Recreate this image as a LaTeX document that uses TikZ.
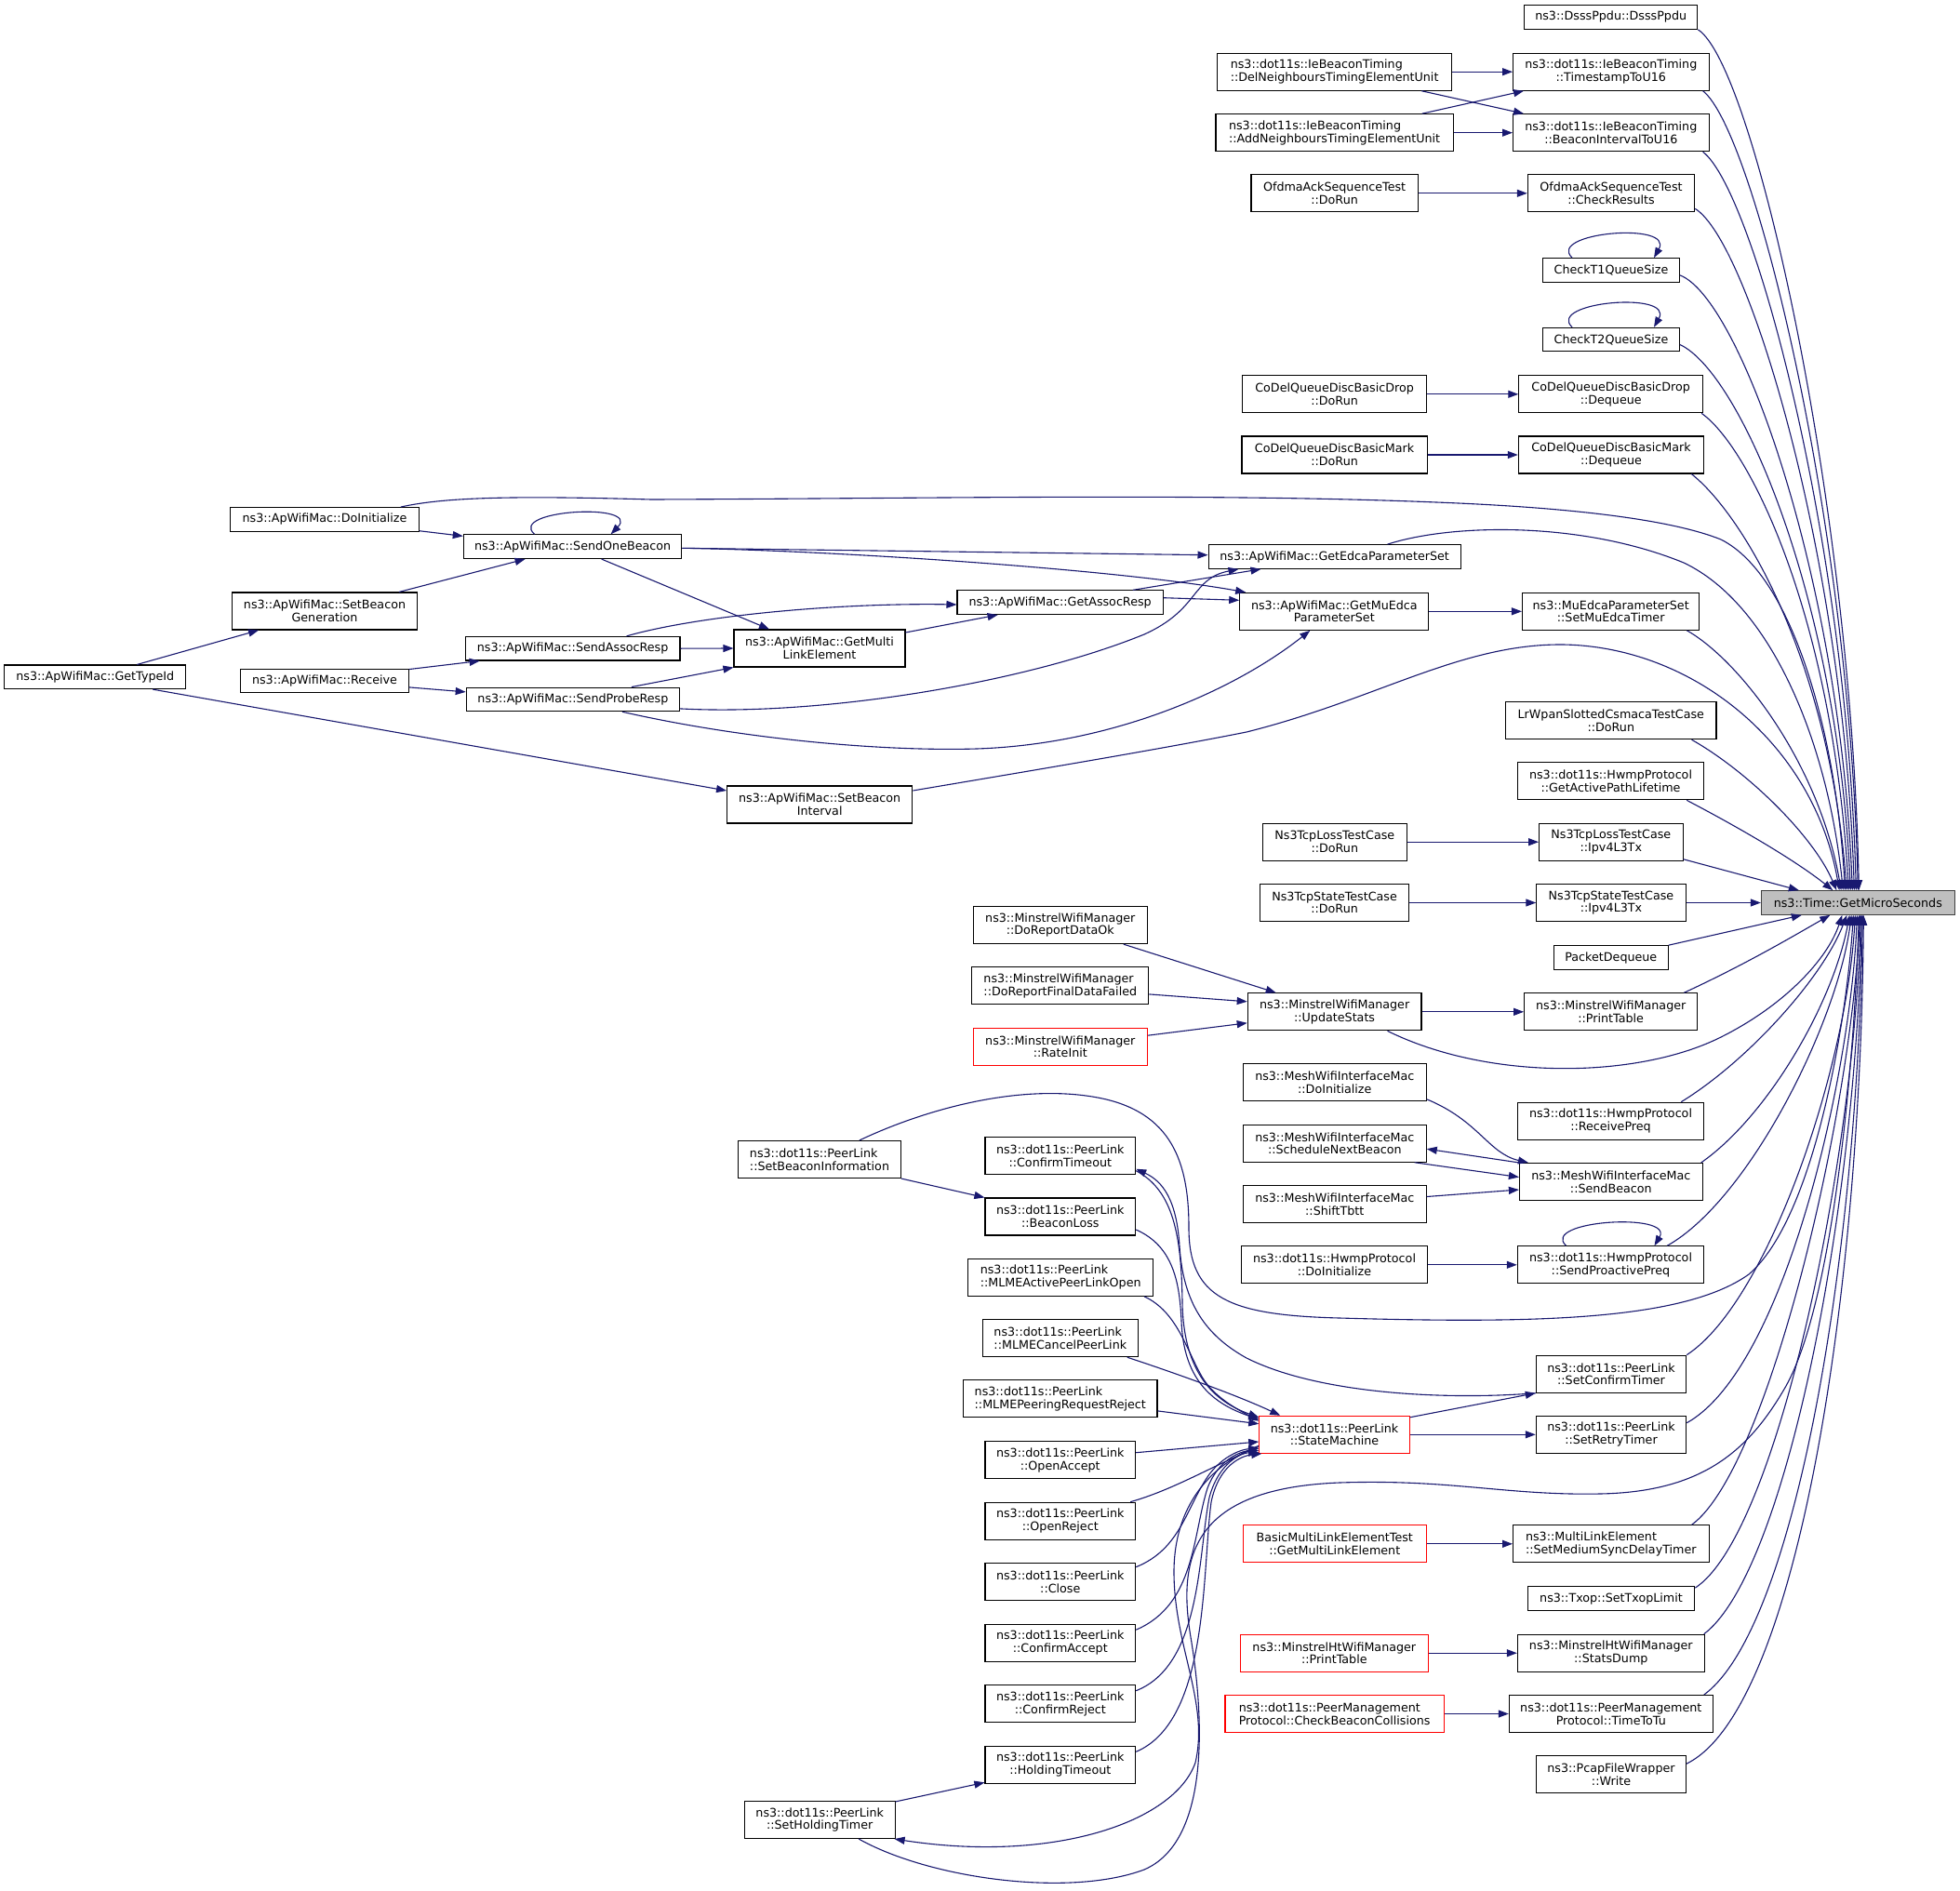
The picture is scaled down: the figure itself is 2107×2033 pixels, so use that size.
\documentclass[tikz,border=0pt]{standalone}
\usepackage{fontspec}
\setmainfont{DejaVu Sans}
\usetikzlibrary{arrows.meta}
\definecolor{edgec}{HTML}{191970}
\definecolor{gmsfill}{HTML}{BFBFBF}
\definecolor{gmsdraw}{HTML}{404040}
\begin{document}
\begin{tikzpicture}[x=1pt,y=-1pt,
  nd/.style={draw=black, line width=1.1pt, fill=white, inner sep=0pt, align=center,
    font=\fontsize{12.7}{13.7}\selectfont},
  nl/.style={nd, align=left},
  sa/.style={minimum height=25.6},
  sb/.style={minimum height=40},
  rd/.style={draw=red},
  e/.style={draw=edgec, line width=1.1pt, -{Triangle[length=11pt,width=8pt]}}]
\fill[white] (0,0) rectangle (2107,2033);
\useasboundingbox (0,0) rectangle (2107,2033);
% ---------- right column ----------
\node[nd,sa,minimum width=186.2] (dsss) at (1731.7,18.5) {ns3::DsssPpdu::DsssPpdu};
\node[nd,sb,minimum width=210.5] (ts) at (1731.8,77.2) {ns3::dot11s::IeBeaconTiming\\::TimestampToU16};
\node[nd,sb,minimum width=210.5] (bi) at (1731.8,142.7) {ns3::dot11s::IeBeaconTiming\\::BeaconIntervalToU16};
\node[nl,sb,minimum width=252.1] (del) at (1434.6,77.2) {ns3::dot11s::IeBeaconTiming\\::DelNeighboursTimingElementUnit};
\node[nl,sb,minimum width=255.3] (add) at (1434.6,142.7) {ns3::dot11s::IeBeaconTiming\\::AddNeighboursTimingElementUnit};
\node[nd,sb,minimum width=179.3] (ofdmarun) at (1434.6,207.8) {OfdmaAckSequenceTest\\::DoRun};
\node[nd,sb,minimum width=179.4] (ofdmachk) at (1732,207.8) {OfdmaAckSequenceTest\\::CheckResults};
\node[nd,sa,minimum width=146.6] (t1) at (1732,290.5) {CheckT1QueueSize};
\node[nd,sa,minimum width=146.6] (t2) at (1732,365.1) {CheckT2QueueSize};
\node[nd,sb,minimum width=198.3] (droprun) at (1434.6,423.8) {CoDelQueueDiscBasicDrop\\::DoRun};
\node[nd,sb,minimum width=197.8] (dropdeq) at (1731.7,423.8) {CoDelQueueDiscBasicDrop\\::Dequeue};
\node[nd,sb,minimum width=199.3] (markrun) at (1434.6,489) {CoDelQueueDiscBasicMark\\::DoRun};
\node[nd,sb,minimum width=199.4] (markdeq) at (1732,489) {CoDelQueueDiscBasicMark\\::Dequeue};
\node[nd,sa,minimum width=271.1] (getedca) at (1434.6,598.5) {ns3::ApWifiMac::GetEdcaParameterSet};
\node[nd,sb,minimum width=203.1] (getmuedca) at (1434.3,657.3) {ns3::ApWifiMac::GetMuEdca\\ParameterSet};
\node[nd,sb,minimum width=190.4] (setmutimer) at (1731.7,657.3) {ns3::MuEdcaParameterSet\\::SetMuEdcaTimer};
\node[nd,sb,minimum width=226.3] (lrwpan) at (1731.8,774.7) {LrWpanSlottedCsmacaTestCase\\::DoRun};
\node[nd,sb,minimum width=200.4] (activepath) at (1731.5,839.8) {ns3::dot11s::HwmpProtocol\\::GetActivePathLifetime};
\node[nd,sb,minimum width=154.6] (lossrun) at (1434.8,905.2) {Ns3TcpLossTestCase\\::DoRun};
\node[nd,sb,minimum width=154.5] (losstx) at (1731.8,905.2) {Ns3TcpLossTestCase\\::Ipv4L3Tx};
\node[nd,sb,minimum width=160.3] (staterun) at (1434.6,970.5) {Ns3TcpStateTestCase\\::DoRun};
\node[nd,sb,minimum width=160.4] (statetx) at (1732,970.5) {Ns3TcpStateTestCase\\::Ipv4L3Tx};
\node[nd,sa,minimum width=207.8,fill=gmsfill,draw=gmsdraw] (gms) at (1997.3,970.5) {ns3::Time::GetMicroSeconds};
\node[nd,sa,minimum width=122.9] (pktdeq) at (1731.8,1029.5) {PacketDequeue};
\node[nd,sb,minimum width=186.7] (updstats) at (1434.6,1087.8) {ns3::MinstrelWifiManager\\::UpdateStats};
\node[nd,sb,minimum width=186.2] (printtable) at (1731.7,1087.8) {ns3::MinstrelWifiManager\\::PrintTable};
\node[nd,sb,minimum width=196.8] (meshinit) at (1434.8,1163.8) {ns3::MeshWifiInterfaceMac\\::DoInitialize};
\node[nd,sb,minimum width=200.4] (recvpreq) at (1731.5,1205.2) {ns3::dot11s::HwmpProtocol\\::ReceivePreq};
\node[nd,sb,minimum width=196.8] (schednext) at (1434.8,1229.2) {ns3::MeshWifiInterfaceMac\\::ScheduleNextBeacon};
\node[nd,sb,minimum width=196.7] (sendbeacon) at (1731.8,1270.5) {ns3::MeshWifiInterfaceMac\\::SendBeacon};
\node[nd,sb,minimum width=196.8] (shifttbtt) at (1434.8,1294.5) {ns3::MeshWifiInterfaceMac\\::ShiftTbtt};
\node[nd,sb,minimum width=200.4] (hwmpinit) at (1434.5,1359.8) {ns3::dot11s::HwmpProtocol\\::DoInitialize};
\node[nd,sb,minimum width=200.4] (proactive) at (1731.5,1359.8) {ns3::dot11s::HwmpProtocol\\::SendProactivePreq};
\node[nd,sb,minimum width=161.4] (setconfirm) at (1732,1477.2) {ns3::dot11s::PeerLink\\::SetConfirmTimer};
\node[nd,sb,rd,minimum width=161.4] (statemachine) at (1434.5,1542.3) {ns3::dot11s::PeerLink\\::StateMachine};
\node[nd,sb,minimum width=161.4] (setretry) at (1732,1542.3) {ns3::dot11s::PeerLink\\::SetRetryTimer};
\node[nd,sb,rd,minimum width=196.8] (basicmle) at (1434.8,1659.8) {BasicMultiLinkElementTest\\::GetMultiLinkElement};
\node[nl,sb,minimum width=210.5] (setmedsync) at (1731.8,1659.8) {ns3::MultiLinkElement\\::SetMediumSyncDelayTimer};
\node[nd,sa,minimum width=179.4] (settxop) at (1732,1718.5) {ns3::Txop::SetTxopLimit};
\node[nd,sb,rd,minimum width=202] (htprint) at (1434.3,1777.2) {ns3::MinstrelHtWifiManager\\::PrintTable};
\node[nd,sb,minimum width=200.9] (statsdump) at (1731.8,1777.2) {ns3::MinstrelHtWifiManager\\::StatsDump};
\node[nl,sb,rd,minimum width=235.3] (checkbeacon) at (1434.6,1842.5) {ns3::dot11s::PeerManagement\\Protocol::CheckBeaconCollisions};
\node[nd,sb,minimum width=218.9] (timetotu) at (1731.8,1842.5) {ns3::dot11s::PeerManagement\\Protocol::TimeToTu};
\node[nd,sb,minimum width=160.4] (pcap) at (1732,1907.8) {ns3::PcapFileWrapper\\::Write};
% ---------- ApWifiMac cluster ----------
\node[nd,sa,minimum width=194.9] (gettypeid) at (102.3,727.8) {ns3::ApWifiMac::GetTypeId};
\node[nd,sa,minimum width=202.6] (apinit) at (349,558.4) {ns3::ApWifiMac::DoInitialize};
\node[nd,sa,minimum width=234.6] (sendonebeacon) at (615.6,587.7) {ns3::ApWifiMac::SendOneBeacon};
\node[nd,sb,minimum width=198.8] (setbeacongen) at (349,657) {ns3::ApWifiMac::SetBeacon\\Generation};
\node[nd,sa,minimum width=230.8] (sendassoc) at (615.6,697.2) {ns3::ApWifiMac::SendAssocResp};
\node[nd,sa,minimum width=180.4] (receive) at (349,731.9) {ns3::ApWifiMac::Receive};
\node[nd,sa,minimum width=229.3] (sendprobe) at (615.9,751.9) {ns3::ApWifiMac::SendProbeResp};
\node[nd,sb,minimum width=184] (getmle) at (881,697) {ns3::ApWifiMac::GetMulti\\LinkElement};
\node[nd,sa,minimum width=221.2] (getassoc) at (1139.6,647.7) {ns3::ApWifiMac::GetAssocResp};
\node[nd,sb,minimum width=199.2] (setbeaconint) at (881.2,865) {ns3::ApWifiMac::SetBeacon\\Interval};
% ---------- Minstrel ----------
\node[nd,sb,minimum width=186.9] (dataok) at (1139.8,994.6) {ns3::MinstrelWifiManager\\::DoReportDataOk};
\node[nl,sb,minimum width=189.8] (finalfail) at (1139.8,1059.9) {ns3::MinstrelWifiManager\\::DoReportFinalDataFailed};
\node[nd,sb,rd,minimum width=186.9] (rateinit) at (1139.8,1125.2) {ns3::MinstrelWifiManager\\::RateInit};
% ---------- PeerLink ----------
\node[nl,sb,minimum width=174.6] (setbeaconinfo) at (881,1246.5) {ns3::dot11s::PeerLink\\::SetBeaconInformation};
\node[nd,sb,minimum width=161.7] (confirmtimeout) at (1139.8,1242.7) {ns3::dot11s::PeerLink\\::ConfirmTimeout};
\node[nd,sb,minimum width=161.7] (beaconloss) at (1139.8,1308) {ns3::dot11s::PeerLink\\::BeaconLoss};
\node[nl,sb,minimum width=198.7] (activeopen) at (1140.2,1373.3) {ns3::dot11s::PeerLink\\::MLMEActivePeerLinkOpen};
\node[nl,sb,minimum width=166.9] (cancel) at (1139.8,1438.7) {ns3::dot11s::PeerLink\\::MLMECancelPeerLink};
\node[nl,sb,minimum width=208.3] (reqreject) at (1139.8,1503.9) {ns3::dot11s::PeerLink\\::MLMEPeeringRequestReject};
\node[nd,sb,minimum width=161.7] (openaccept) at (1139.8,1569.7) {ns3::dot11s::PeerLink\\::OpenAccept};
\node[nd,sb,minimum width=161.7] (openreject) at (1139.8,1635.2) {ns3::dot11s::PeerLink\\::OpenReject};
\node[nd,sb,minimum width=161.7] (close) at (1139.8,1700.7) {ns3::dot11s::PeerLink\\::Close};
\node[nd,sb,minimum width=161.7] (confirmaccept) at (1139.8,1766.2) {ns3::dot11s::PeerLink\\::ConfirmAccept};
\node[nd,sb,minimum width=161.7] (confirmreject) at (1139.8,1831.7) {ns3::dot11s::PeerLink\\::ConfirmReject};
\node[nd,sb,minimum width=161.7] (holdingtimeout) at (1139.8,1897.3) {ns3::dot11s::PeerLink\\::HoldingTimeout};
\node[nd,sb,minimum width=161.7] (setholding) at (881.2,1956.5) {ns3::dot11s::PeerLink\\::SetHoldingTimer};
% ================= edges =================
% into GMS from above
\draw[e] (dsss.south east) .. controls (1885,70) and (1990,540) .. ([xshift=1]gms.north);
\draw[e] ([xshift=-7]ts.south east) .. controls (1885,140) and (1988,560) .. (gms.north);
\draw[e] ([xshift=-7]bi.south east) .. controls (1885,205) and (1985,580) .. ([xshift=-2]gms.north);
\draw[e] ([yshift=4]ofdmachk.south east) .. controls (1880,260) and (1982,600) .. ([xshift=-4]gms.north);
\draw[e] ([yshift=8]t1.south east) .. controls (1870,320) and (1978,620) .. ([xshift=-6]gms.north);
\draw[e] ([yshift=8]t2.south east) .. controls (1870,400) and (1975,640) .. ([xshift=-8]gms.north);
\draw[e] ([xshift=-2]dropdeq.south east) .. controls (1880,480) and (1970,660) .. ([xshift=-10]gms.north);
\draw[e] ([xshift=-14]markdeq.south east) .. controls (1870,550) and (1965,700) .. ([xshift=-12]gms.north);
\draw[e] ([xshift=-20]apinit.north east) .. controls (480,534) and (560,533) .. (700,537)
  .. controls (1000,536) and (1300,530) .. (1544,540)
  .. controls (1700,546) and (1800,560) .. (1850,580)
  .. controls (1930,620) and (1975,800) .. ([xshift=-14]gms.north);
\draw[e] ([xshift=57]getedca.north) .. controls (1560,563) and (1700,560) .. (1810,605)
  .. controls (1905,650) and (1965,800) .. ([xshift=-16]gms.north);
\draw[e] ([xshift=-14]setmutimer.south east) .. controls (1870,710) and (1955,820) .. ([xshift=-18]gms.north);
\draw[e] ([yshift=15]setbeaconint.east) .. controls (1100,830) and (1250,805) .. (1340,787)
  .. controls (1480,752) and (1570,692) .. (1680,693)
  .. controls (1820,695) and (1950,800) .. ([xshift=-20]gms.north);
\draw[e] ([xshift=-27]lrwpan.south east) .. controls (1880,830) and (1950,900) .. ([xshift=-23]gms.north);
\draw[e] ([xshift=-19]activepath.south east) .. controls (1870,890) and (1930,925) .. ([xshift=-27]gms.north);
\draw[e] ([yshift=2]losstx.south east) -- ([xshift=41]gms.north west);
\draw[e] (statetx.east) -- (gms.west);
\draw[e] (pktdeq.north east) -- ([xshift=44]gms.south west);
% into GMS from below
\draw[e] ([xshift=-15]printtable.north east) .. controls (1880,1035) and (1930,1005) .. ([xshift=-30]gms.south);
\draw[e] ([xshift=-37]updstats.south east) .. controls (1600,1162) and (1760,1160) .. (1850,1115)
  .. controls (1920,1080) and (1965,1030) .. ([xshift=-17]gms.south);
\draw[e] ([xshift=-25]recvpreq.north east) .. controls (1880,1140) and (1960,1050) .. ([xshift=-12]gms.south);
\draw[e] ([xshift=-2]sendbeacon.north east) .. controls (1900,1200) and (1970,1080) .. ([xshift=-9]gms.south);
\draw[e] ([xshift=-40]proactive.north east) .. controls (1880,1290) and (1975,1100) .. ([xshift=-7]gms.south);
\draw[e] ([xshift=-45]setbeaconinfo.north east) .. controls (1000,1190) and (1100,1165) .. (1180,1180)
  .. controls (1260,1195) and (1278,1250) .. (1278,1320)
  .. controls (1278,1395) and (1320,1414) .. (1440,1417)
  .. controls (1650,1423) and (1810,1420) .. (1880,1370)
  .. controls (1950,1310) and (1985,1100) .. ([xshift=-5]gms.south);
\draw[e] (setconfirm.north east) .. controls (1900,1400) and (1985,1150) .. ([xshift=-3]gms.south);
\draw[e] ([yshift=-8]setretry.north east) .. controls (1920,1470) and (1990,1150) .. ([xshift=-1]gms.south);
\draw[e] ([xshift=42]setholding.south) .. controls (1000,2020) and (1150,2040) .. (1230,2010)
  .. controls (1300,1980) and (1295,1850) .. (1280,1760)
  .. controls (1265,1670) and (1285,1600) .. (1440,1594)
  .. controls (1560,1590) and (1620,1608) .. (1720,1606)
  .. controls (1830,1604) and (1880,1560) .. (1920,1490)
  .. controls (1970,1400) and (1993,1150) .. ([xshift=1]gms.south);
\draw[e] ([xshift=-19]setmedsync.north east) .. controls (1900,1580) and (1990,1200) .. ([xshift=2]gms.south);
\draw[e] ([yshift=-2]settxop.north east) .. controls (1910,1650) and (1993,1250) .. ([xshift=3]gms.south);
\draw[e] ([xshift=-1]statsdump.north east) .. controls (1920,1690) and (1995,1300) .. ([xshift=4]gms.south);
\draw[e] ([xshift=-10]timetotu.north east) .. controls (1930,1750) and (1997,1350) .. ([xshift=5]gms.south);
\draw[e] ([yshift=-9]pcap.north east) .. controls (1930,1840) and (2000,1400) .. ([xshift=6]gms.south);
% top cluster
\draw[e] (del.east) -- (ts.west);
\draw[e] ([xshift=-33]del.south east) -- ([xshift=12]bi.north west);
\draw[e] ([xshift=-34]add.north east) -- ([xshift=12]ts.south west);
\draw[e] (add.east) -- (bi.west);
\draw[e] (ofdmarun.east) -- (ofdmachk.west);
\draw[e] ([xshift=-42]t1.north) .. controls (1662,250) and (1800,238) .. ([xshift=46]t1.north);
\draw[e] ([xshift=-42]t2.north) .. controls (1662,324.6) and (1800,312.6) .. ([xshift=46]t2.north);
\draw[e] (droprun.east) -- (dropdeq.west);
\draw[e] (markrun.east) -- (markdeq.west);
\draw[e] (lossrun.east) -- (losstx.west);
\draw[e] (staterun.east) -- (statetx.west);
% ApWifiMac cluster
\draw[e] ([xshift=45]gettypeid.north) -- ([xshift=29]setbeacongen.south west);
\draw[e] ([xshift=62]gettypeid.south) -- ([yshift=15]setbeaconint.west);
\draw[e] ([yshift=1]apinit.south east) -- ([yshift=-2]sendonebeacon.north west);
\draw[e] ([xshift=-20]setbeacongen.north east) -- ([xshift=-51]sendonebeacon.south);
\draw[e] ([xshift=-41]sendonebeacon.north) .. controls (545,548) and (690,540) .. ([xshift=41]sendonebeacon.north);
\draw[e] ([yshift=-1.6]sendonebeacon.east) -- ([yshift=1.8]getedca.west);
\draw[e] ([yshift=-1.6]sendonebeacon.east) .. controls (900,592) and (1200,612) .. ([xshift=7]getmuedca.north west);
\draw[e] ([xshift=31]sendonebeacon.south) -- ([xshift=-54]getmle.north);
\draw[e] ([yshift=-1]receive.north east) -- ([xshift=16]sendassoc.south west);
\draw[e] ([yshift=-7]receive.east) -- ([yshift=8]sendprobe.west);
\draw[e] (sendassoc.east) -- (getmle.west);
\draw[e] ([xshift=58]sendassoc.north) .. controls (750,662) and (900,648) .. ([yshift=-2.3]getassoc.west);
\draw[e] ([xshift=63]sendprobe.north) -- (getmle.south west);
\draw[e] ([yshift=-10]sendprobe.east) .. controls (880,770) and (1100,735) .. (1230,682)
  .. controls (1290,655) and (1280,622) .. ([xshift=33]getedca.south west);
\draw[e] ([xshift=53]sendprobe.south) .. controls (800,795) and (950,808) .. (1050,805)
  .. controls (1200,800) and (1330,740) .. ([xshift=-26]getmuedca.south);
\draw[e] ([yshift=17]getmle.east) -- ([xshift=-67]getassoc.south);
\draw[e] ([xshift=-33]getassoc.north east) -- ([xshift=57]getedca.south west);
\draw[e] ([yshift=5]getassoc.east) -- ([yshift=12]getmuedca.west);
\draw[e] (getmuedca.east) -- (setmutimer.west);
% Minstrel
\draw[e] ([xshift=-26]dataok.south east) -- ([xshift=31]updstats.north west);
\draw[e] ([yshift=-9]finalfail.east) -- ([yshift=11]updstats.west);
\draw[e] ([yshift=12]rateinit.east) -- ([yshift=-12]updstats.west);
\draw[e] (updstats.east) -- (printtable.west);
% Mesh
\draw[e] ([yshift=-18]meshinit.east) .. controls (1590,1205) and (1600,1240) .. ([xshift=10]sendbeacon.north west);
\draw[e] (sendbeacon.north west) -- ([yshift=-6]schednext.east);
\draw[e] ([xshift=-13]schednext.south east) -- ([yshift=5]sendbeacon.west);
\draw[e] ([yshift=8]shifttbtt.east) -- ([yshift=-8.5]sendbeacon.west);
\draw[e] (hwmpinit.east) -- (proactive.west);
\draw[e] ([xshift=-48]proactive.north) .. controls (1655,1312) and (1800,1303) .. ([xshift=47]proactive.north);
% PeerLink
\draw[e] (setbeaconinfo.south east) -- (beaconloss.north west);
\draw[e] ([yshift=-16]confirmtimeout.east) .. controls (1262,1280) and (1270,1330) .. (1271,1400)
  .. controls (1272,1470) and (1300,1505) .. ([yshift=-2]statemachine.north west);
\draw[e] (setconfirm.south west) .. controls (1560,1505) and (1420,1500) .. (1340,1460)
  .. controls (1295,1435) and (1272,1400) .. (1268,1340)
  .. controls (1265,1290) and (1250,1270) .. ([yshift=-14]confirmtimeout.east);
\draw[e] ([yshift=-14]beaconloss.east) .. controls (1262,1340) and (1268,1380) .. (1270,1420)
  .. controls (1272,1480) and (1300,1508) .. ([yshift=-4]statemachine.north west);
\draw[e] ([xshift=-10]activeopen.south east) .. controls (1265,1410) and (1275,1450) .. (1292,1480)
  .. controls (1305,1502) and (1330,1515) .. ([yshift=-6]statemachine.north west);
\draw[e] ([xshift=-12]cancel.south east) .. controls (1260,1475) and (1330,1500) .. ([xshift=23]statemachine.north west);
\draw[e] ([yshift=-13]reqreject.east) -- ([yshift=-9]statemachine.north west);
\draw[e] ([yshift=8]openaccept.east) -- ([yshift=-7.7]statemachine.west);
\draw[e] ([xshift=-6]openreject.north east) .. controls (1260,1602) and (1300,1578) .. ([yshift=-13]statemachine.west);
\draw[e] ([yshift=16]close.east) .. controls (1270,1665) and (1275,1620) .. (1300,1585)
  .. controls (1315,1565) and (1335,1558) .. ([yshift=-15]statemachine.west);
\draw[e] ([yshift=14]confirmaccept.east) .. controls (1285,1725) and (1282,1650) .. (1298,1600)
  .. controls (1310,1568) and (1335,1560) .. ([yshift=-17]statemachine.west);
\draw[e] ([yshift=14]confirmreject.east) .. controls (1292,1790) and (1288,1670) .. (1300,1610)
  .. controls (1310,1572) and (1335,1562) .. ([yshift=-19]statemachine.west);
\draw[e] ([yshift=14]holdingtimeout.east) .. controls (1300,1850) and (1292,1690) .. (1302,1615)
  .. controls (1310,1575) and (1335,1565) .. ([xshift=3]statemachine.south west);
\draw[e] ([yshift=-12]statemachine.west) .. controls (1300,1575) and (1262,1620) .. (1262,1690)
  .. controls (1262,1770) and (1300,1830) .. (1285,1895)
  .. controls (1262,1960) and (1130,2003) .. ([xshift=-1]setholding.south east);
\draw[e] ([yshift=-1]setholding.north east) -- ([yshift=-19]holdingtimeout.west);
\draw[e] ([yshift=-2]statemachine.north east) -- (setconfirm.south west);
\draw[e] (statemachine.east) -- (setretry.west);
% remaining pairs
\draw[e] (basicmle.east) -- (setmedsync.west);
\draw[e] (htprint.east) -- (statsdump.west);
\draw[e] (checkbeacon.east) -- (timetotu.west);
\end{tikzpicture}
\end{document}
